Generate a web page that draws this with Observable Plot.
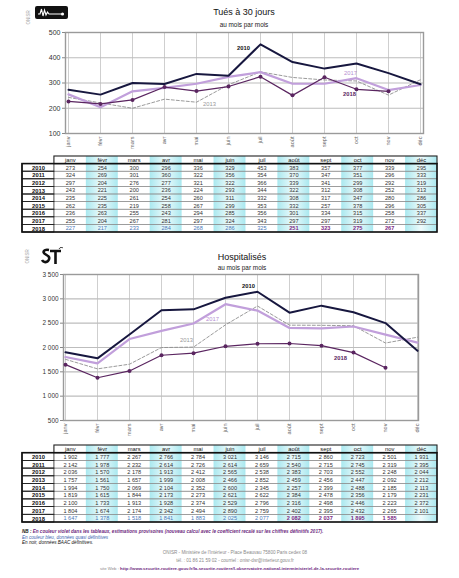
<!DOCTYPE html>
<html><head><meta charset="utf-8">
<script src="https://cdn.jsdelivr.net/npm/d3@7"></script>
<script src="https://cdn.jsdelivr.net/npm/@observablehq/plot@0.6"></script>
<style>
body{margin:0;background:#fff;font-family:"Liberation Sans",Arial,sans-serif;}
#page{position:relative;width:459px;height:578px;overflow:hidden;background:#fff;}
.abs{position:absolute;line-height:1;white-space:nowrap;}
</style></head><body><div id="page"></div>
<script>
// ---------- data ----------
const months = ["janv","févr","mars","avr","mai","juin","juil","août","sept","oct","nov","déc"];
const years = [2010,2011,2012,2013,2014,2015,2016,2017,2018];

// Tués à 30 jours
const tues2010 = [273,254,300,296,336,329,453,383,357,377,339,295];
const tues2011 = [324,269,301,360,322,356,354,370,347,351,296,333];
const tues2012 = [297,204,276,277,321,322,366,339,341,299,292,319];
const tues2013 = [243,221,200,236,224,293,344,322,312,308,252,313];
const tues2014 = [235,225,261,254,260,311,332,308,317,347,280,286];
const tues2015 = [262,235,219,258,267,299,353,332,257,378,296,305];
const tues2016 = [236,263,255,243,294,285,356,301,334,315,258,337];
const tues2017 = [255,204,267,281,297,324,343,297,297,319,272,292];
const tues2018 = [227,217,233,284,268,286,325,251,323,275,267,null];

// Hospitalisés
const hosp2010 = [1902,1777,2267,2766,2784,3021,3146,2715,2860,2723,2501,1931];
const hosp2011 = [2142,1978,2232,2614,2726,2614,2659,2540,2715,2745,2319,2395];
const hosp2012 = [2036,1570,2178,1913,2412,2565,2538,2383,2703,2552,2248,2044];
const hosp2013 = [1757,1561,1657,1999,2008,2466,2852,2459,2456,2447,2092,2212];
const hosp2014 = [1994,1750,2069,2104,2352,2600,2345,2257,2399,2488,2185,2113];
const hosp2015 = [1819,1615,1844,2173,2273,2621,2622,2384,2478,2356,2179,2231];
const hosp2016 = [2100,1733,1913,1928,2374,2529,2796,2316,2498,2446,2223,2372];
const hosp2017 = [1804,1674,2174,2342,2494,2890,2759,2402,2395,2432,2265,2101];
const hosp2018 = [1647,1378,1518,1841,1883,2025,2077,2082,2037,1895,1585,null];

const tuesTicks = [100,200,300,400,500];
const hospTicks = [500,1000,1500,2000,2500,3000,3500];

// status of the 2018 row: quasi-definitive (blue) then provisional estimates (violet)
const status2018 = ["b","b","b","b","b","b","b","v","v","v","v","v"];

const tuesByYear = {2010:tues2010,2011:tues2011,2012:tues2012,2013:tues2013,2014:tues2014,2015:tues2015,2016:tues2016,2017:tues2017,2018:tues2018};
const hospByYear = {2010:hosp2010,2011:hosp2011,2012:hosp2012,2013:hosp2013,2014:hosp2014,2015:hosp2015,2016:hosp2016,2017:hosp2017,2018:hosp2018};

// ---------- helpers ----------
const FONT = "Liberation Sans, Arial, sans-serif";
const fmtK = v => v >= 1000 ? Math.floor(v/1000) + " " + String(v % 1000).padStart(3,"0") : String(v);
const page = document.getElementById("page");
function place(el, top){ const d=document.createElement("div"); d.className="abs"; d.style.left="0px"; d.style.top=top+"px"; d.appendChild(el); page.appendChild(d); }
function html(str, css){ const d=document.createElement("div"); d.innerHTML=str; d.style.cssText=css; page.appendChild(d); return d; }

function toRows(byYear, showYears){
  const rows=[];
  for (const y of showYears) byYear[y].forEach((v,i)=>{ if(v!=null) rows.push({year:y, month:months[i], value:v}); });
  return rows;
}

function lineChart(byYear, opt){
  const rows = toRows(byYear,[2010,2013,2017,2018]);
  const ser = y => rows.filter(d=>d.year===y);
  return Plot.plot({
    width:459, height:opt.height,
    marginTop:opt.mt, marginBottom:opt.mb, marginLeft:opt.ml, marginRight:opt.mr,
    style:{fontFamily:FONT, background:"transparent", overflow:"visible"},
    x:{type:"point", domain:months, padding:0, axis:null},
    y:{domain:opt.yDomain, axis:null},
    marks:[
      Plot.gridX(months,{stroke:"#c9c9c9", strokeOpacity:1, strokeWidth:0.9}),
      Plot.gridY(opt.ticks,{stroke:"#bdbdbd", strokeOpacity:1, strokeWidth:1.1}),
      Plot.frame({stroke:"#9a9a9a", strokeWidth:1.4}),
      Plot.axisY(opt.ticks,{tickSize:3, tickPadding:2, fontSize:opt.yFont, fill:"#333", stroke:"#888", tickFormat:opt.fmt, label:null}),
      Plot.axisX(months,{tickRotate:-90, tickSize:0, tickPadding:3, fontSize:5.6, fill:"#666", label:null}),
      Plot.line(ser(2013),{x:"month", y:"value", stroke:"#8e8e8e", strokeWidth:0.9, strokeDasharray:"3,2"}),
      Plot.line(ser(2017),{x:"month", y:"value", stroke:"#c19fdb", strokeWidth:2.2}),
      Plot.line(ser(2018),{x:"month", y:"value", stroke:"#5a2560", strokeWidth:1.2}),
      Plot.dot(ser(2018),{x:"month", y:"value", r:2, fill:"#5a2560"}),
      Plot.line(ser(2010),{x:"month", y:"value", stroke:"#17173f", strokeWidth:2}),
      Plot.text([opt.lab[0]],{x:"m", y:"v", dx:opt.lab[0].dx, text:()=> "2010", fontSize:5.8, fontWeight:"bold", fill:"#111"}),
      Plot.text([opt.lab[1]],{x:"m", y:"v", dx:opt.lab[1].dx, text:()=> "2017", fontSize:5.8, fill:"#b690d2"}),
      Plot.text([opt.lab[2]],{x:"m", y:"v", dx:opt.lab[2].dx, text:()=> "2013", fontSize:5.8, fill:"#999"}),
      Plot.text([opt.lab[3]],{x:"m", y:"v", dx:opt.lab[3].dx, text:()=> "2018", fontSize:5.8, fontWeight:"bold", fill:"#5a2560"})
    ]
  });
}

function gradDef(id){
  return () => {
    const ns="http://www.w3.org/2000/svg";
    const defs=document.createElementNS(ns,"defs");
    defs.innerHTML=`<linearGradient id="${id}" x1="0" x2="1" y1="0" y2="0"><stop offset="0" stop-color="#a9e8ef"/><stop offset="0.5" stop-color="#effbfc"/><stop offset="1" stop-color="#a9e8ef"/></linearGradient>`;
    return defs;
  };
}

function dataTable(byYear, fmt, gid, height){
  const head = months.map((m,i)=>({c:i+1, r:0, t:m}));
  const yr = years.map((y,j)=>({c:0, r:j+1, t:String(y)}));
  const normal=[], blue=[], violet=[];
  years.forEach((y,j)=> byYear[y].forEach((v,i)=>{
    if(v==null) return;
    const cell={c:i+1, r:j+1, t:fmt(v)};
    if(y===2018) (status2018[i]==="b"?blue:violet).push(cell); else normal.push(cell);
  }));
  const shade=[2,4,6,8,10,12];
  const rowsIdx=d3.range(1,10);
  const tx = d=>d.c+0.5, ty = d=>d.r+0.5;
  return Plot.plot({
    width:459, height, marginTop:2, marginBottom:2, marginLeft:22, marginRight:22,
    style:{fontFamily:FONT, background:"transparent", overflow:"visible"},
    x:{domain:[0,13], axis:null},
    y:{domain:[0,10], reverse:true, axis:null},
    marks:[
      gradDef(gid),
      Plot.rect(shade,{x1:c=>c, x2:c=>c+1, y1:()=>0, y2:()=>10, fill:`url(#${gid})`}),
      Plot.rect(rowsIdx,{x1:()=>0, x2:()=>13, y1:r=>r, y2:r=>r+1, fill:"none", stroke:"#8c8c8c", strokeWidth:0.6}),
      Plot.rect(rowsIdx,{x1:()=>0, x2:()=>1, y1:r=>r, y2:r=>r+1, fill:"none", stroke:"#222", strokeWidth:0.8}),
      Plot.rect([0],{x1:()=>1, x2:()=>13, y1:()=>0, y2:()=>1, fill:"none", stroke:"#222", strokeWidth:1.1}),
      Plot.rect([0],{x1:()=>0, x2:()=>13, y1:()=>1, y2:()=>10, fill:"none", stroke:"#111", strokeWidth:1.6}),
      Plot.text(head,{x:tx, y:ty, text:"t", fontSize:5.8, fill:"#111"}),
      Plot.text(yr,{x:tx, y:ty, text:"t", fontSize:5.8, fontWeight:"bold", fill:"#111"}),
      Plot.text(normal,{x:tx, y:ty, text:"t", fontSize:5.6, fill:"#333"}),
      Plot.text(blue,{x:tx, y:ty, text:"t", fontSize:5.6, fill:"#4a78b8"}),
      Plot.text(violet,{x:tx, y:ty, text:"t", fontSize:5.6, fontWeight:"bold", fill:"#7a2a85"})
    ]
  });
}

// ---------- chart 1 ----------
place(lineChart(tuesByYear,{
  height:150, mt:32, mb:17, ml:65, mr:36, yDomain:[100,500], ticks:tuesTicks, yFont:7, fmt:d=>String(d),
  lab:[{m:"juil",v:437,dx:-17},{m:"oct",v:338,dx:-6},{m:"mai",v:215,dx:13},{m:"oct",v:254,dx:-7}]
}),0);
place(dataTable(tuesByYear, v=>String(v), "g1", 80),154);

// ---------- chart 2 ----------
place(lineChart(hospByYear,{
  height:195, mt:29, mb:20, ml:63, mr:41, yDomain:[500,3500], ticks:hospTicks, yFont:6.4, fmt:fmtK,
  lab:[{m:"juil",v:3260,dx:-9},{m:"juin",v:2582,dx:-13},{m:"mai",v:2150,dx:-7},{m:"oct",v:1780,dx:-13}]
}),245);
place(dataTable(hospByYear, fmtK, "g2", 81),443);

// ---------- titles ----------
html("Tués à 30 jours","position:absolute;left:65px;width:358px;text-align:center;top:7.5px;font-size:9px;color:#111;line-height:1;");
html("au mois par mois","position:absolute;left:65px;width:358px;text-align:center;top:21.5px;font-size:6.4px;color:#222;line-height:1;");
html("Hospitalisés","position:absolute;left:63px;width:358px;text-align:center;top:252.5px;font-size:9px;color:#111;line-height:1;");
html("au mois par mois","position:absolute;left:63px;width:358px;text-align:center;top:264.5px;font-size:6.4px;color:#222;line-height:1;");

// ONISR side marks and logos (decoration)
html("ONISR","position:absolute;left:22px;top:15px;font-size:4.5px;color:#aaa;transform:rotate(-90deg);line-height:1;");
html("ONISR","position:absolute;left:21px;top:254px;font-size:4.5px;color:#aaa;transform:rotate(-90deg);line-height:1;");
html(`<svg width="33" height="13" viewBox="0 0 33 13"><rect x="0" y="0" width="33" height="13" rx="2" fill="#111"/><polyline points="3,8 5,8 6.5,3 8,10 9.5,4 11,9 12.5,6 14,8 26,8" fill="none" stroke="#fff" stroke-width="1.1"/><circle cx="27.5" cy="8" r="1.6" fill="#fff"/></svg>`,
  "position:absolute;left:35px;top:6px;line-height:0;");
html(`<svg width="24" height="18" viewBox="0 0 24 18"><path d="M9,3 C4,2 2,5 5,7 C8,9 11,10 8,14 C6,16 3,15 2,13" fill="none" stroke="#111" stroke-width="2.6"/><path d="M10,4 L21,4 M15.5,4 L15.5,17" fill="none" stroke="#111" stroke-width="2.6"/><path d="M19,2 C20,0 22,0 23,1" fill="none" stroke="#111" stroke-width="0.8"/></svg>`,
  "position:absolute;left:40px;top:247px;line-height:0;");

// ---------- notes & footer ----------
html(`<span style="color:#111">NB : </span><span style="color:#6e2a80">En couleur violet dans les tableaux, estimations provisoires (nouveau calcul avec le coefficient recalé sur les chiffres définitifs 2017).</span>`,
  "position:absolute;left:22px;top:530px;font-size:4.6px;font-style:italic;font-weight:bold;line-height:1;white-space:nowrap;");
html("En couleur bleu, données quasi définitives","position:absolute;left:22px;top:535.5px;font-size:4.6px;font-style:italic;color:#3b5fb0;line-height:1;white-space:nowrap;");
html("En noir, données BAAC définitives.","position:absolute;left:22px;top:541px;font-size:4.6px;font-style:italic;color:#111;line-height:1;white-space:nowrap;");
html("ONISR - Ministère de l'Intérieur - Place Beauvau 75800 Paris cedex 08","position:absolute;left:0;width:470px;text-align:center;top:551px;font-size:4.6px;color:#8a8a8a;line-height:1;white-space:nowrap;");
html("tél. : 01 86 21 59 02 - courriel : onisr-dsr@interieur.gouv.fr","position:absolute;left:0;width:470px;text-align:center;top:558.5px;font-size:4.6px;color:#8a8a8a;line-height:1;white-space:nowrap;");
html(`site Web : <span style="color:#6e2a80;font-weight:bold">http://www.securite-routiere.gouv.fr/la-securite-routiere/l-observatoire-national-interministeriel-de-la-securite-routiere</span>`,
  "position:absolute;left:0;width:459px;text-align:center;top:567px;font-size:4.3px;color:#8a8a8a;line-height:1;white-space:nowrap;");
</script></body></html>
